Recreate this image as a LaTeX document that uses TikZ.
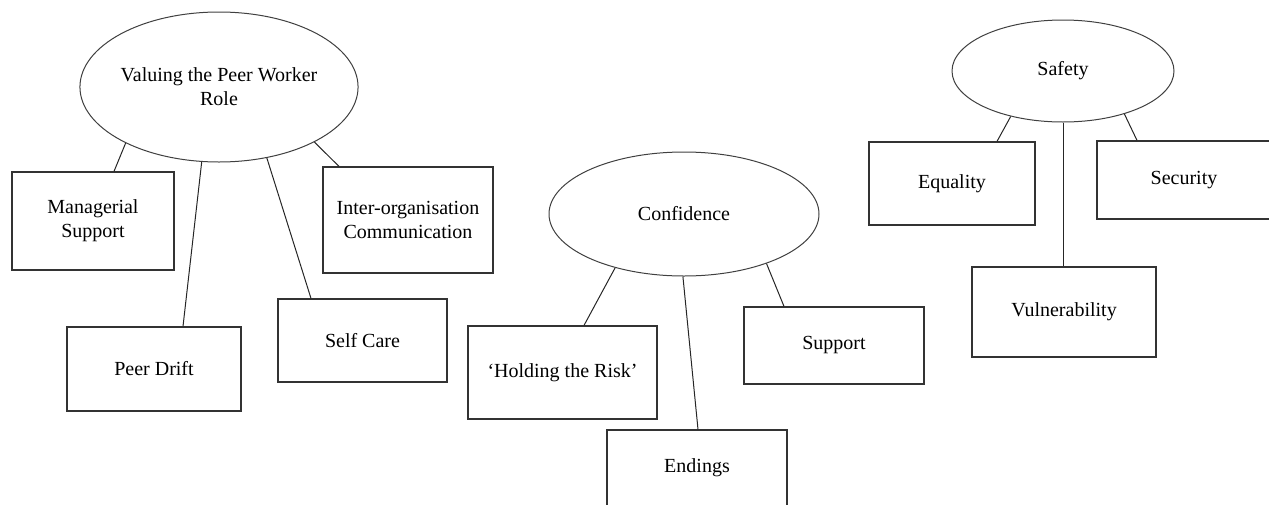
\documentclass[tikz,border=0pt]{standalone}
\usepackage{fontspec}
\setmainfont{Liberation Serif}
\usetikzlibrary{shapes.geometric}

\begin{document}
\begin{tikzpicture}[
	x=0.5pt, y=-0.5pt,
	font=\fontsize{10}{12}\selectfont,
	theme/.style={
		ellipse,
		draw=black!75,
		fill=white,
		line width=0.5pt,
		inner sep=0pt,
		align=center,
	},
	code/.style={
		rectangle,
		draw=black!80,
		line width=0.6pt,
		inner sep=0pt,
		align=center,
	},
	Link/.style={% plain connecting lines
		line width=0.5pt,
		draw=black!85,
	},
]

\clip (0,0) rectangle (1269,504);

\node[theme, minimum width=129pt, minimum height=75pt] (val) at (219,87) {Valuing the Peer Worker\\Role};
\node[theme, minimum width=135pt, minimum height=62pt] (conf) at (684,214) {Confidence};
\node[theme, minimum width=111pt, minimum height=51pt] (safe) at (1063,71) {Safety};

\node[code, minimum width=81pt, minimum height=49pt] (mgr) at (93,221) {Managerial\\Support};
\node[code, minimum width=87pt, minimum height=42pt] (drift) at (154,369) {Peer Drift};
\node[code, minimum width=84.5pt, minimum height=41.5pt] (care) at (362.5,340.5) {Self Care};
\node[code, minimum width=85pt, minimum height=53pt] (comm) at (408,220) {Inter-organisation\\Communication};

\node[code, minimum width=94.5pt, minimum height=46.5pt] (risk) at (562.5,372.5) {‘Holding the Risk’};
\node[code, minimum width=90pt, minimum height=38pt] (end) at (697,468) {Endings};
\node[code, minimum width=90pt, minimum height=38.5pt] (supp) at (834,345.5) {Support};

\node[code, minimum width=83pt, minimum height=41.5pt] (equal) at (952,183.5) {Equality};
\node[code, minimum width=87pt, minimum height=39pt] (secur) at (1184,180) {Security};
\node[code, minimum width=92pt, minimum height=45pt] (vuln) at (1064,312) {Vulnerability};

\draw[Link] (val.211.7) -- ([xshift=10.5pt]mgr.north);
\draw[Link] (val.257.2) -- ([xshift=14.5pt]drift.north);
\draw[Link] (val.304.4) -- ([xshift=-25.75pt]care.north);
\draw[Link] (val.330.3) -- ([xshift=-34.5pt]comm.north);

\draw[Link] (conf.218) -- ([xshift=10.75pt]risk.north);
\draw[Link] (conf.269) -- ([xshift=.5pt]end.north);
\draw[Link] (conf.329.4) -- ([xshift=-25pt]supp.north);

\draw[Link] (safe.221.5) -- ([xshift=22.5pt]equal.north);
\draw[Link] (safe.south) -- ([xshift=-.5pt]vuln.north);
\draw[Link] (safe.325.7) -- ([xshift=-23.5pt]secur.north);

\end{tikzpicture}
\end{document}
